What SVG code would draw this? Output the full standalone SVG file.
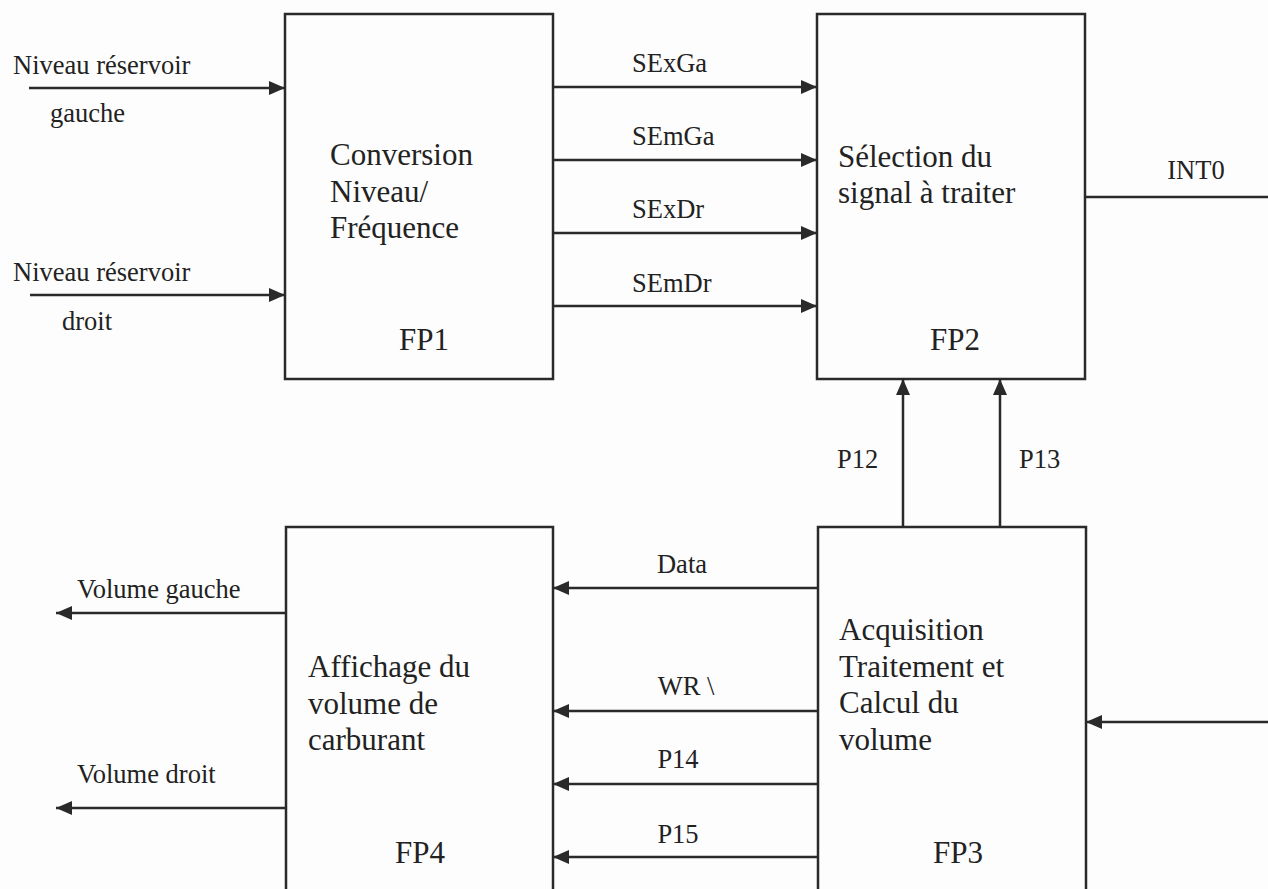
<svg xmlns="http://www.w3.org/2000/svg" width="1268" height="889" viewBox="0 0 1268 889">
<defs>
<style>
.box{fill:none;stroke:#2a2a2a;stroke-width:2.5}
.ln{fill:none;stroke:#2a2a2a;stroke-width:2.5}
.big{font-family:"Liberation Serif","Times New Roman",serif;font-size:31px;fill:#222}
.sm{font-family:"Liberation Serif","Times New Roman",serif;font-size:26.5px;fill:#222}
.mid{text-anchor:middle}
</style>
<marker id="ah" markerUnits="userSpaceOnUse" markerWidth="18" markerHeight="14" refX="16" refY="7" orient="auto">
<path d="M0,0 L16,7 L0,14 Z" fill="#2a2a2a"/>
</marker>
</defs>
<rect width="1268" height="889" fill="#fdfdfd"/>
<g id="FP1">
<rect class="box" x="285" y="14" width="268" height="365"/>
<text class="big" x="330" y="165">Conversion</text>
<text class="big" x="330" y="202">Niveau/</text>
<text class="big" x="330" y="238">Fréquence</text>
<text class="big mid" x="424" y="350">FP1</text>
</g>
<g id="FP2">
<rect class="box" x="817" y="14" width="268" height="365"/>
<text class="big" x="838" y="167">Sélection du</text>
<text class="big" x="838" y="203">signal à traiter</text>
<text class="big mid" x="955" y="350">FP2</text>
</g>
<g id="FP3">
<rect class="box" x="818" y="527" width="268" height="380"/>
<text class="big" x="839" y="640">Acquisition</text>
<text class="big" x="839" y="677">Traitement et</text>
<text class="big" x="839" y="713">Calcul du</text>
<text class="big" x="839" y="750">volume</text>
<text class="big mid" x="958" y="863">FP3</text>
</g>
<g id="FP4">
<rect class="box" x="286" y="527" width="267" height="380"/>
<text class="big" x="308" y="677">Affichage du</text>
<text class="big" x="308" y="714">volume de</text>
<text class="big" x="308" y="750">carburant</text>
<text class="big mid" x="420" y="863">FP4</text>
</g>
<g id="connectors">
<line class="ln" x1="29" y1="88" x2="285" y2="88" marker-end="url(#ah)"/>
<line class="ln" x1="30" y1="295" x2="285" y2="295" marker-end="url(#ah)"/>
<line class="ln" x1="553" y1="87" x2="817" y2="87" marker-end="url(#ah)"/>
<line class="ln" x1="553" y1="160" x2="817" y2="160" marker-end="url(#ah)"/>
<line class="ln" x1="553" y1="233" x2="817" y2="233" marker-end="url(#ah)"/>
<line class="ln" x1="553" y1="306" x2="817" y2="306" marker-end="url(#ah)"/>
<line class="ln" x1="1085" y1="197" x2="1268" y2="197"/>
<line class="ln" x1="903" y1="527" x2="903" y2="379" marker-end="url(#ah)"/>
<line class="ln" x1="1000" y1="527" x2="1000" y2="379" marker-end="url(#ah)"/>
<line class="ln" x1="1268" y1="722" x2="1086" y2="722" marker-end="url(#ah)"/>
<line class="ln" x1="818" y1="588" x2="553" y2="588" marker-end="url(#ah)"/>
<line class="ln" x1="818" y1="711" x2="553" y2="711" marker-end="url(#ah)"/>
<line class="ln" x1="818" y1="784" x2="553" y2="784" marker-end="url(#ah)"/>
<line class="ln" x1="818" y1="857" x2="553" y2="857" marker-end="url(#ah)"/>
<line class="ln" x1="286" y1="613" x2="56" y2="613" marker-end="url(#ah)"/>
<line class="ln" x1="286" y1="808" x2="56" y2="808" marker-end="url(#ah)"/>
<text class="sm" x="13" y="74">Niveau réservoir</text>
<text class="sm" x="50" y="122">gauche</text>
<text class="sm" x="13" y="281">Niveau réservoir</text>
<text class="sm" x="62" y="330">droit</text>
<text class="sm" x="632" y="72">SExGa</text>
<text class="sm" x="632" y="145">SEmGa</text>
<text class="sm" x="632" y="218">SExDr</text>
<text class="sm" x="632" y="292">SEmDr</text>
<text class="sm mid" x="1196" y="179">INT0</text>
<text class="sm" x="837" y="468">P12</text>
<text class="sm" x="1019" y="468">P13</text>
<text class="sm mid" x="682" y="573">Data</text>
<text class="sm mid" x="686" y="695">WR \</text>
<text class="sm mid" x="678" y="768">P14</text>
<text class="sm mid" x="678" y="843">P15</text>
<text class="sm" x="77" y="598">Volume gauche</text>
<text class="sm" x="77" y="783">Volume droit</text>
</g>
</svg>
